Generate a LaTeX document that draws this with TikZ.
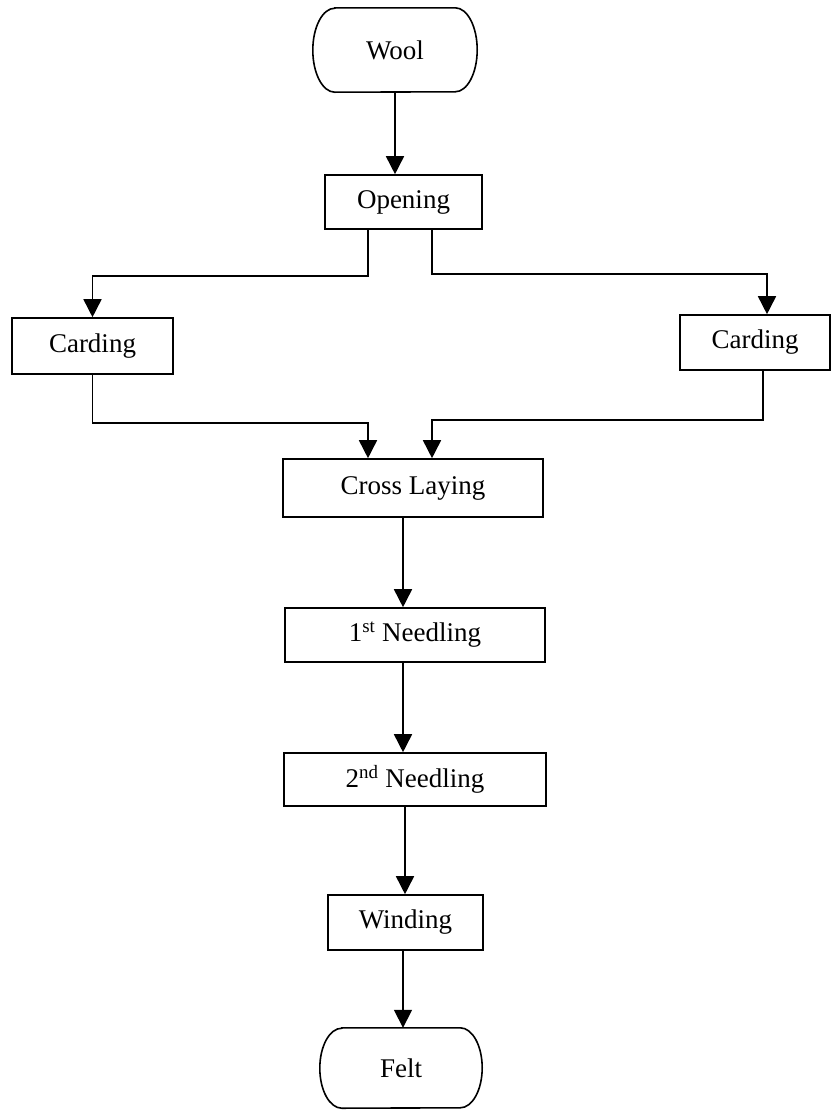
\documentclass[tikz,border=0pt]{standalone}
\usepackage{fontspec}
\setmainfont{Liberation Serif}
\usetikzlibrary{arrows.meta}
\newcommand{\termoutline}[1]{%
  \draw[line width=1.6pt] ([xshift=22pt]#1.north west) -- ([xshift=-22pt]#1.north east)
    arc[start angle=90,end angle=-90,x radius=22pt,y radius=0.5*\termh]
    -- ([xshift=22pt]#1.south west)
    arc[start angle=270,end angle=90,x radius=22pt,y radius=0.5*\termh] -- cycle;}
\begin{document}
\begin{tikzpicture}[x=1pt,y=-1pt,
  box/.style={draw,line width=1.6pt,inner sep=0pt,font=\fontsize{27}{31}\selectfont},
  term/.style={inner sep=0pt,font=\fontsize{27}{31}\selectfont},
  arr/.style={line width=1.6pt,-{Triangle[length=18pt,width=18pt]}}]
\useasboundingbox (0,0) rectangle (831,1111);
\node[term,minimum width=164pt,minimum height=84pt] (wool) at (395,50) {Wool};
\node[box,minimum width=157pt,minimum height=54pt] (open) at (403.5,202) {Opening};
\node[box,minimum width=161pt,minimum height=56pt] (cardL) at (92.5,346) {Carding};
\node[box,minimum width=150pt,minimum height=55pt] (cardR) at (755,342.5) {Carding};
\node[box,minimum width=260pt,minimum height=58pt] (cross) at (413,488) {Cross Laying};
\node[box,minimum width=260pt,minimum height=54pt] (n1) at (415,635) {1\textsuperscript{st} Needling};
\node[box,minimum width=262pt,minimum height=53pt] (n2) at (415,779.5) {2\textsuperscript{nd} Needling};
\node[box,minimum width=155pt,minimum height=55pt] (wind) at (405.5,922.5) {Winding};
\node[term,minimum width=162pt,minimum height=80pt] (felt) at (401,1068) {Felt};
\def\termh{84pt}\termoutline{wool}
\def\termh{80pt}\termoutline{felt}
\draw[arr] (wool.south) -- (wool.south |- open.north);
\draw[arr] ([xshift=-35.5pt]open.south) -- ++(0,46) -| (cardL.north);
\draw[arr] ([xshift=28.5pt]open.south) -- ++(0,44) -| ([xshift=12pt]cardR.north);
\draw[arr] (cardL.south) -- ++(0,48) -| ([xshift=-45pt]cross.north);
\draw[arr] ([xshift=8pt]cardR.south) -- ++(0,49) -| ([xshift=19pt]cross.north);
\draw[arr] ([xshift=-10pt]cross.south) -- ([xshift=-10pt]cross.south |- n1.north);
\draw[arr] ([xshift=-12pt]n1.south) -- ([xshift=-12pt]n1.south |- n2.north);
\draw[arr] ([xshift=-10pt]n2.south) -- ([xshift=-10pt]n2.south |- wind.north);
\draw[arr] ([xshift=-2.5pt]wind.south) -- ([xshift=-2.5pt]wind.south |- felt.north);
\end{tikzpicture}
\end{document}
